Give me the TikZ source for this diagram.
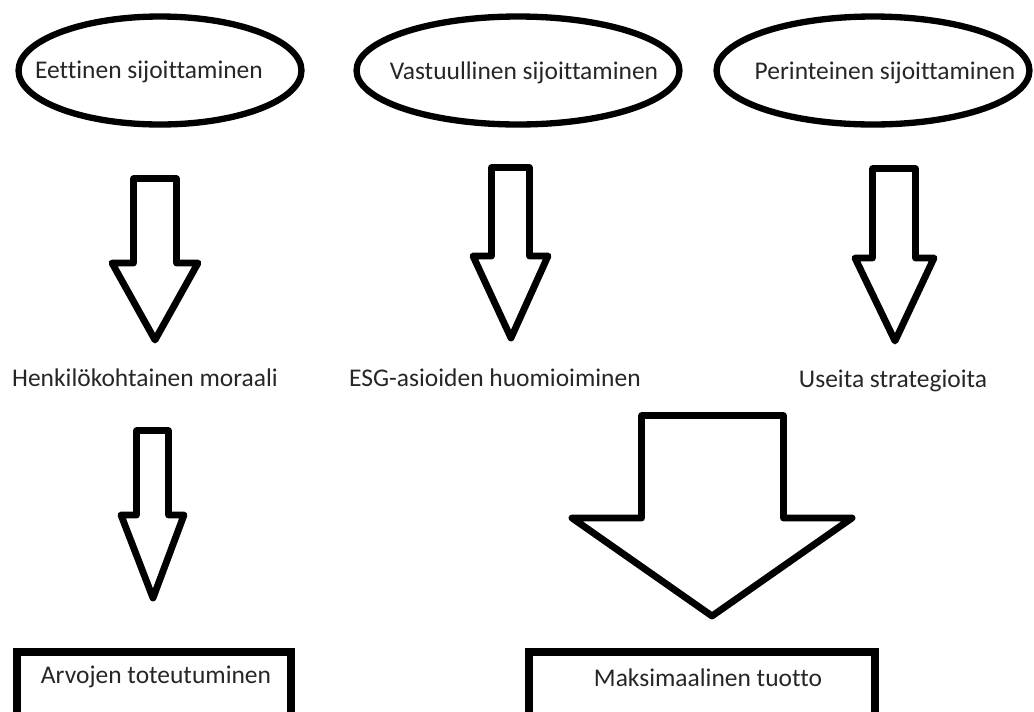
\documentclass[tikz,border=0pt]{standalone}
\usepackage{fontspec}
\setmainfont[Ligatures=NoCommon]{Carlito}
\usetikzlibrary{shapes.geometric}

\tikzset{
  oval/.style={draw, ellipse, line width=3.6pt, minimum height=2.16cm, inner sep=0pt},
  blockarrow/.style={draw, line width=3.9pt, line join=round},
  outbox/.style={draw, rectangle, line width=4.5pt, minimum height=1.28cm, inner sep=0pt},
  lbl/.style={font=\fontsize{14.5}{17}\selectfont, text=black!85, inner sep=0pt,
    text height=1.5ex, text depth=.45ex}
}

\begin{document}
\begin{tikzpicture}[x=0.02cm, y=-0.02cm]
  \useasboundingbox (0,0) rectangle (1034,711);
  \clip (0,0) rectangle (1034,711);

  % sijoitustavat
  \node[oval, minimum width=5.66cm] (eettinen) at (160,70.5) {};
  \node[oval, minimum width=6.46cm] (vastuu) at (518,70.5) {};
  \node[oval, minimum width=6.26cm] (perint) at (873,70.5) {};
  \node[lbl] (eettxt) at (149,74) {Eettinen sijoittaminen};
  \node[lbl] (vastxt) at (524,75) {Vastuullinen sijoittaminen};
  \node[lbl] (pertxt) at (885,75) {Perinteinen sijoittaminen};

  \draw[blockarrow] (133.5,178.5) -- (176.5,178.5) -- (176.5,263) -- (198,263) -- (155,340)
    -- (112,263) -- (133.5,263) -- cycle;
  \draw[blockarrow] (491.5,167.5) -- (529.5,167.5) -- (529.5,256) -- (548,256) -- (511,338)
    -- (473,256) -- (491.5,256) -- cycle;
  \draw[blockarrow] (872.5,168.5) -- (915.5,168.5) -- (915.5,258) -- (934,258) -- (895,341)
    -- (855,258) -- (872.5,258) -- cycle;

  \node[lbl] (moraali) at (145,382) {Henkilökohtainen moraali};
  \node[lbl] (esg) at (495,382) {ESG-asioiden huomioiminen};
  \node[lbl] (strat) at (893,383) {Useita strategioita};

  \draw[blockarrow] (136.5,430.5) -- (168.5,430.5) -- (168.5,515) -- (184,515) -- (153,598)
    -- (121,515) -- (136.5,515) -- cycle;
  \draw[blockarrow] (641.5,415.5) -- (783.5,415.5) -- (783.5,518) -- (852,518) -- (712,616)
    -- (572,518) -- (641.5,518) -- cycle;

  % tulokset
  \node[outbox, minimum width=5.48cm] (arvot) at (154,684) {};
  \node[lbl] (arvottxt) at (156,679) {Arvojen toteutuminen};
  \node[outbox, minimum width=6.93cm] (tuotto) at (702,684) {};
  \node[lbl] (tuottotxt) at (708,682) {Maksimaalinen tuotto};

\end{tikzpicture}
\end{document}
